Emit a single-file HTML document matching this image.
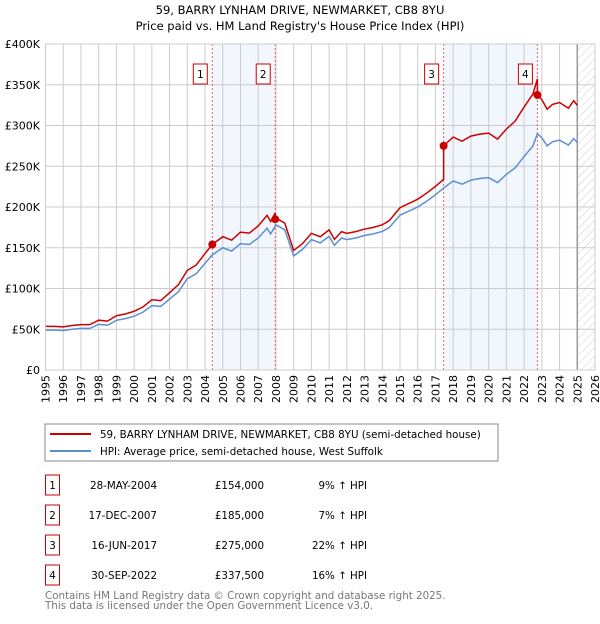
<!DOCTYPE html>
<html><head><meta charset="utf-8"><style>
body{margin:0;background:#fff;font-family:"DejaVu Sans","Liberation Sans",sans-serif;}
svg text{font-family:"DejaVu Sans","Liberation Sans",sans-serif;}
</style></head><body>
<svg id="chart" width="600" height="620" xmlns="http://www.w3.org/2000/svg">
<defs><pattern id="hatch" width="6" height="6" patternUnits="userSpaceOnUse" patternTransform="rotate(45)"><line x1="0" y1="0" x2="0" y2="6" stroke="#ccc" stroke-width="1"/></pattern></defs>
<text x="300" y="14" text-anchor="middle" font-size="11.5">59, BARRY LYNHAM DRIVE, NEWMARKET, CB8 8YU</text>
<text x="300" y="30" text-anchor="middle" font-size="11.5">Price paid vs. HM Land Registry's House Price Index (HPI)</text>
<g id="plot"></g>
<rect x="45" y="424" width="453" height="37" fill="#fff" stroke="#888"/>
<line x1="50" y1="434" x2="91" y2="434" stroke="#cc0000" stroke-width="2"/>
<text x="100" y="438" font-size="10.3">59, BARRY LYNHAM DRIVE, NEWMARKET, CB8 8YU (semi-detached house)</text>
<line x1="50" y1="451" x2="91" y2="451" stroke="#5b8fd4" stroke-width="2"/>
<text x="100" y="455" font-size="10.3">HPI: Average price, semi-detached house, West Suffolk</text>
<g id="table" font-size="10.3"></g>
<text x="45" y="599" font-size="10.3" fill="#777">Contains HM Land Registry data © Crown copyright and database right 2025.</text>
<text x="45" y="609" font-size="10.3" fill="#777">This data is licensed under the Open Government Licence v3.0.</text>
</svg>
<script>
const NS="http://www.w3.org/2000/svg";
const yTicks=[0,50000,100000,150000,200000,250000,300000,350000,400000];
const yTickLabels=["£0","£50K","£100K","£150K","£200K","£250K","£300K","£350K","£400K"];
const xYears=[1995,1996,1997,1998,1999,2000,2001,2002,2003,2004,2005,2006,2007,2008,2009,2010,2011,2012,2013,2014,2015,2016,2017,2018,2019,2020,2021,2022,2023,2024,2025,2026];
const hpiDates=[1995,1995.5,1996,1996.5,1997,1997.5,1998,1998.5,1999,1999.5,2000,2000.5,2001,2001.5,2002,2002.5,2003,2003.5,2004,2004.4,2005,2005.5,2006,2006.5,2007,2007.5,2007.7,2008,2008.5,2009,2009.5,2010,2010.5,2011,2011.3,2011.7,2012,2012.5,2013,2013.5,2014,2014.4,2015,2015.5,2016,2016.5,2017,2017.5,2018,2018.5,2019,2019.5,2020,2020.5,2021,2021.5,2022,2022.5,2022.75,2023,2023.3,2023.6,2024,2024.5,2024.8,2025];
const hpiValues=[49000,49000,48500,50000,51000,51000,56000,55000,61000,63000,66000,71000,79000,78000,87000,96000,112000,118000,131000,141000,150000,146000,155000,154000,162000,174000,167000,178000,172000,140000,148000,160000,156000,164000,153000,162000,160000,162000,165000,167000,170000,175000,190000,195000,200000,207000,215000,224000,232000,228000,233000,235000,236000,230000,240000,248000,262000,275000,290000,285000,275000,280000,282000,276000,284000,279000];
const saleDates=[2004.41,2007.96,2017.46,2022.75];
const salePrices=[154000,185000,275000,337500];
const saleLabels=["28-MAY-2004","17-DEC-2007","16-JUN-2017","30-SEP-2022"];
const salePriceLabels=["£154,000","£185,000","£275,000","£337,500"];
const saleHpiLabels=["9% ↑ HPI","7% ↑ HPI","22% ↑ HPI","16% ↑ HPI"];
const x0=45.5,x1=595,y0=370,y1=44;
const X=t=>x0+(t-1995)/(2026-1995)*(x1-x0);
const Y=v=>y0-v/400000*(y0-y1);
const g=document.getElementById('plot');
function mk(tag,attrs,parent){const e=document.createElementNS(NS,tag);for(const k in attrs)e.setAttribute(k,attrs[k]);(parent||g).appendChild(e);return e;}
function hpiAt(t){for(let i=1;i<hpiDates.length;i++){if(t<=hpiDates[i]){const a=hpiDates[i-1],b=hpiDates[i];return hpiValues[i-1]+(hpiValues[i]-hpiValues[i-1])*(t-a)/(b-a);}}return hpiValues[hpiValues.length-1];}
for(let i=0;i<saleDates.length;i+=2){
const r=mk('rect',{x:X(saleDates[i]),y:y1,width:X(saleDates[i+1])-X(saleDates[i]),height:y0-y1,fill:'#f2f6fd'});


}
const hz=mk('rect',{x:X(2025),y:y1,width:x1-X(2025),height:y0-y1,fill:'url(#hatch)'});


yTicks.forEach((v,i)=>{
const l=mk('line',{x1:x0,x2:x1,y1:Y(v),y2:Y(v),stroke:'#ccc'});


const t=mk('text',{x:40,y:Y(v)+4,'text-anchor':'end','font-size':11});
t.textContent=yTickLabels[i];


});
xYears.forEach(yr=>{
const l=mk('line',{x1:X(yr),x2:X(yr),y1:y1,y2:y0,stroke:'#ccc'});


const t=mk('text',{x:0,y:0,'font-size':11,'text-anchor':'end',transform:`translate(${X(yr)+4},${y0+5}) rotate(-90)`});
t.textContent=yr;


});
const el=mk('line',{x1:X(2025),x2:X(2025),y1:y1,y2:y0,stroke:'#999','stroke-width':1.5});


saleDates.forEach((d,i)=>{
const l=mk('line',{x1:X(d),x2:X(d),y1:y1,y2:y0,stroke:'#f06060','stroke-dasharray':'2,2'});


});
const hp=mk('polyline',{points:hpiDates.map((d,i)=>X(d)+','+Y(hpiValues[i])).join(' '),fill:'none',stroke:'#5b8fd4','stroke-width':1.5});


function ratioAt(t){let k=0;for(let i=0;i<saleDates.length;i++)if(t>=saleDates[i])k=i;return salePrices[k]/hpiAt(saleDates[k]);}
const pts=[];
hpiDates.forEach((d,i)=>{
saleDates.forEach((s,j)=>{if(s>(i?hpiDates[i-1]:0)&&s<=d){pts.push([s,salePrices[j]*(j?hpiAt(s)*salePrices[j-1]/hpiAt(saleDates[j-1])/salePrices[j]:1)]);pts.push([s,salePrices[j]]);}});
pts.push([d,hpiValues[i]*ratioAt(d)]);
});
const pp=mk('polyline',{points:pts.map(p=>X(p[0])+','+Y(p[1])).join(' '),fill:'none',stroke:'#cc0000','stroke-width':1.5});


saleDates.forEach((d,i)=>{
const c=mk('circle',{cx:X(d),cy:Y(salePrices[i]),r:4,fill:'#cc0000'});


const b=mk('rect',{x:X(d)-19,y:64,width:14,height:20,fill:'#fff',stroke:'#cc0000'});


const t=mk('text',{x:X(d)-12,y:78,'text-anchor':'middle','font-size':10.5});
t.textContent=i+1;


});
mk('rect',{x:x0,y:y1,width:x1-x0,height:y0-y1,fill:'none',stroke:'#ccc'});
const tb=document.getElementById('table');
saleLabels.forEach((s,i)=>{
const cy=485+30*i;
const b=mk('rect',{x:45.5,y:cy-10,width:14,height:20,fill:'#fff',stroke:'#cc0000'},tb);


const n=mk('text',{x:52.5,y:cy+4,'text-anchor':'middle'},tb);n.textContent=i+1;


const a=mk('text',{x:157,y:cy+4,'text-anchor':'end'},tb);a.textContent=s;


const p=mk('text',{x:264,y:cy+4,'text-anchor':'end'},tb);p.textContent=salePriceLabels[i];


const h=mk('text',{x:367,y:cy+4,'text-anchor':'end'},tb);h.textContent=saleHpiLabels[i];


});
</script>
</body></html>
